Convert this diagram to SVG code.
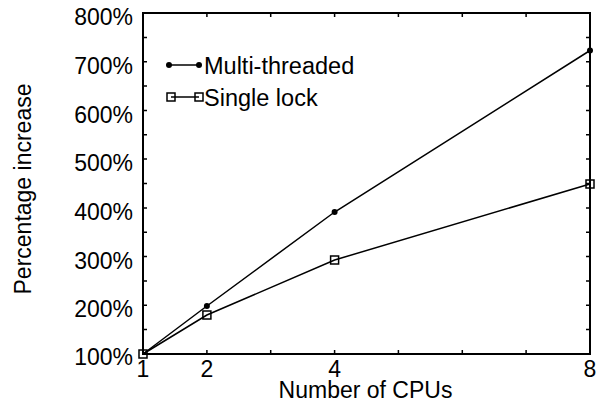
<svg xmlns="http://www.w3.org/2000/svg" width="603" height="405" viewBox="0 0 603 405">
<style>
text{font-family:"Liberation Sans",Arial,sans-serif;font-size:23px;fill:#000}
.yl{text-anchor:end}
.xl{text-anchor:middle}
.lg{font-size:23.5px}
.frame{fill:none;stroke:#000;stroke-width:2}
.tick{stroke:#000;stroke-width:1.5}
.data{fill:none;stroke:#000;stroke-width:1.5}
.sq{fill:none;stroke:#000;stroke-width:1.5}
</style>
<defs>
<circle id="dot" r="3" fill="#000"/>
<rect id="sq" x="-4" y="-4" width="8" height="8" class="sq"/>
</defs>
<g id="axes">
<rect class="frame" x="143" y="13" width="447" height="341"/>
<path class="tick" d="M143 329.6h4M143 305.3h4M143 280.9h4M143 256.6h4M143 232.2h4M143 207.9h4M143 183.5h4M143 159.1h4M143 134.8h4M143 110.4h4M143 86.1h4M143 61.7h4M143 37.4h4
M590 329.6h-4M590 305.3h-4M590 280.9h-4M590 256.6h-4M590 232.2h-4M590 207.9h-4M590 183.5h-4M590 159.1h-4M590 134.8h-4M590 110.4h-4M590 86.1h-4M590 61.7h-4M590 37.4h-4
M206.9 354v-4M270.7 354v-4M334.6 354v-4M398.4 354v-4M462.3 354v-4M526.1 354v-4
M206.9 13v4M270.7 13v4M334.6 13v4M398.4 13v4M462.3 13v4M526.1 13v4"/>
</g>
<g id="y-labels">
<text class="yl" x="133" y="25">800%</text>
<text class="yl" x="133" y="74">700%</text>
<text class="yl" x="133" y="122.5">600%</text>
<text class="yl" x="133" y="171">500%</text>
<text class="yl" x="133" y="220">400%</text>
<text class="yl" x="133" y="268.5">300%</text>
<text class="yl" x="133" y="317">200%</text>
<text class="yl" x="133" y="365">100%</text>
</g>
<g id="x-labels">
<text class="xl" x="143" y="377">1</text>
<text class="xl" x="206.9" y="377">2</text>
<text class="xl" x="334.6" y="377">4</text>
<text class="xl" x="590" y="377">8</text>
</g>
<g id="axis-titles">
<text class="xl" x="365.5" y="398">Number of CPUs</text>
<text class="xl" transform="translate(31,189) rotate(-90)">Percentage increase</text>
</g>
<g id="connectors">
<polyline id="multi-line" class="data" points="143,354 206.9,306 334.6,212 590,50.5"/>
<polyline id="single-line" class="data" points="143,354 206.9,315 334.6,260 590,184"/>
</g>
<g id="multi-points">
<use href="#dot" x="206.9" y="306"/>
<use href="#dot" x="334.6" y="212"/>
<use href="#dot" x="590" y="50.5"/>
</g>
<g id="single-points">
<use href="#sq" x="143" y="354"/>
<use href="#sq" x="206.9" y="315"/>
<use href="#sq" x="334.6" y="260"/>
<use href="#sq" x="590" y="184"/>
</g>
<g id="legend">
<line class="data" x1="169" y1="65" x2="199" y2="65"/>
<use href="#dot" x="169" y="65"/>
<use href="#dot" x="199" y="65"/>
<text class="lg" x="204" y="74">Multi-threaded</text>
<line class="data" x1="171" y1="97" x2="199" y2="97"/>
<use href="#sq" x="171" y="97"/>
<use href="#sq" x="199" y="97"/>
<text class="lg" x="204" y="106">Single lock</text>
</g>
</svg>
